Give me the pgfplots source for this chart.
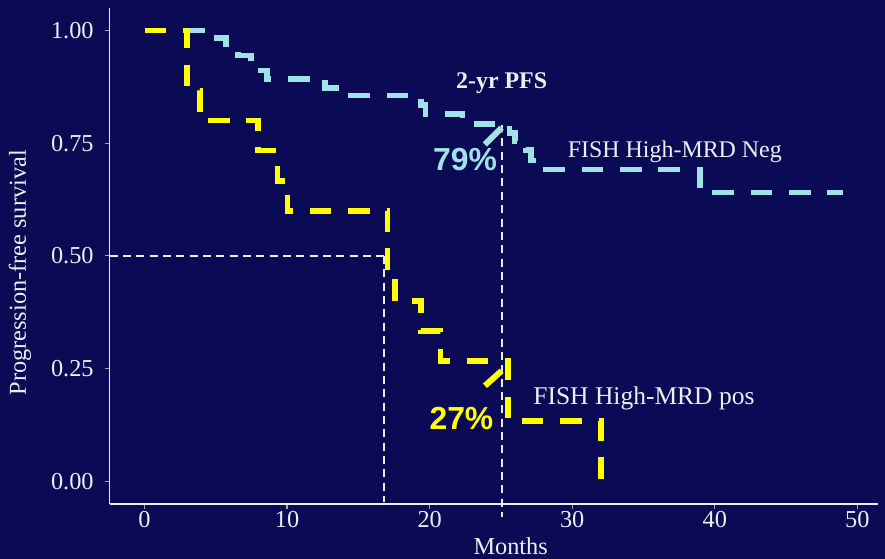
\documentclass[border=0pt]{standalone}
\usepackage{pgfplots}
\pgfplotsset{compat=1.18}
\usepackage{fontspec}
\setmainfont{Liberation Serif}
\newfontfamily\pctfont{Liberation Sans}
\definecolor{bg}{RGB}{10,10,85}
\definecolor{cy}{RGB}{160,226,230}
\definecolor{yl}{RGB}{255,255,0}
\definecolor{tx}{RGB}{238,238,242}
\begin{document}
\begin{tikzpicture}
\fill[bg] (-54.8bp,-27.5bp) rectangle (387.7bp,251.95bp);
\path[use as bounding box] (-54.8bp,-27.5bp) rectangle (387.7bp,251.95bp);
\begin{axis}[
  at={(0,0)}, anchor=south west,
  scale only axis, width=384.2bp, height=248bp,
  xmin=-2.45, xmax=51.45, ymin=-0.05, ymax=1.05,
  axis x line*=bottom, axis y line*=left,
  axis line style={tx, line width=0.8bp, -},
  xtick={0,10,20,30,40,50}, xticklabels={0,10,20,30,40,50},
  ytick={0,0.25,0.5,0.75,1}, yticklabels={0.00,0.25,0.50,0.75,1.00},
  tick align=outside, major tick length=2.5bp,
  tick style={color=gray!70, line width=0.6bp},
  ticklabel style={font=\fontsize{12.2}{14}\selectfont, text=tx},
  xticklabel style={anchor=north, inner sep=0pt, yshift=-0.8bp},
  yticklabel style={anchor=east, inner sep=0pt, xshift=-5.3bp},
  xlabel={Months}, ylabel={Progression-free survival},
  label style={font=\fontsize{12.2}{14}\selectfont, text=tx},
  xlabel style={at={(axis description cs:0.522,-0.0859)}, anchor=center},
  ylabel style={at={(axis description cs:-0.1166,0.466)}, anchor=center},
  clip=false,
  every axis plot/.append style={line join=miter, line cap=butt},
]
% reference lines
\addplot[tx, line width=1bp, dash pattern=on 4bp off 2.67bp] coordinates {(-2.45,0.5) (16.8,0.5)};
\addplot[tx, line width=1bp, dash pattern=on 4bp off 2.67bp] coordinates {(16.8,0.5) (16.8,-0.045)};
\addplot[tx, line width=1bp, dash pattern=on 4bp off 2.67bp] coordinates {(25.05,0.79) (25.05,-0.079)};
% FISH High-MRD Neg
\addplot[cy, line width=2.8bp, dash pattern=on 10.85bp off 8.35bp, const plot] coordinates {
(0,1) (4.45,0.983) (5.72,0.960) (6.55,0.944) (7.45,0.911) (8.6,0.892)
(12.68,0.873) (13.7,0.856) (19.4,0.835) (19.7,0.815) (22.3,0.793)
(25.6,0.773) (26.0,0.755) (26.75,0.735) (27.1,0.712) (27.95,0.692)
(38.95,0.641) (49,0.641)};
% FISH High-MRD pos
\addplot[yl, line width=2.8bp, dash pattern=on 10.85bp off 8.35bp, const plot] coordinates {
(0,1) (2.98,0.8667) (3.9,0.8) (7.96,0.7333) (9.33,0.6667) (10.03,0.6)
(17.04,0.4667) (17.57,0.4) (19.4,0.3333) (20.76,0.2667) (25.5,0.1333) (32.0,0)};
% pointer segments
\addplot[black, opacity=0.45, line width=3bp, forget plot, xshift=0.6bp, yshift=-0.6bp] coordinates {(23.88,0.747) (25.05,0.784)};
\addplot[cy, line width=3bp] coordinates {(23.88,0.747) (25.05,0.784)};
\addplot[black, opacity=0.45, line width=3bp, forget plot, xshift=0.6bp, yshift=-0.6bp] coordinates {(23.88,0.212) (25.05,0.245)};
\addplot[yl, line width=3bp] coordinates {(23.88,0.212) (25.05,0.245)};
% annotations
\node[text=tx, font=\fontsize{12}{14}\selectfont\bfseries] at (axis cs:25.05,0.884) {2-yr PFS};
\node[text=tx, font=\fontsize{12}{14}\selectfont] at (axis cs:37.2,0.732) {FISH High-MRD Neg};
\node[text=tx, font=\fontsize{12.8}{14}\selectfont] at (axis cs:35.03,0.185) {FISH High-MRD pos};
\node[text=cy, font=\pctfont\fontsize{16}{18}\selectfont\bfseries] at (axis cs:22.48,0.713) {79\%};
\node[text=yl, font=\pctfont\fontsize{16}{18}\selectfont\bfseries] at (axis cs:22.23,0.139) {27\%};
\end{axis}
\end{tikzpicture}
\end{document}
